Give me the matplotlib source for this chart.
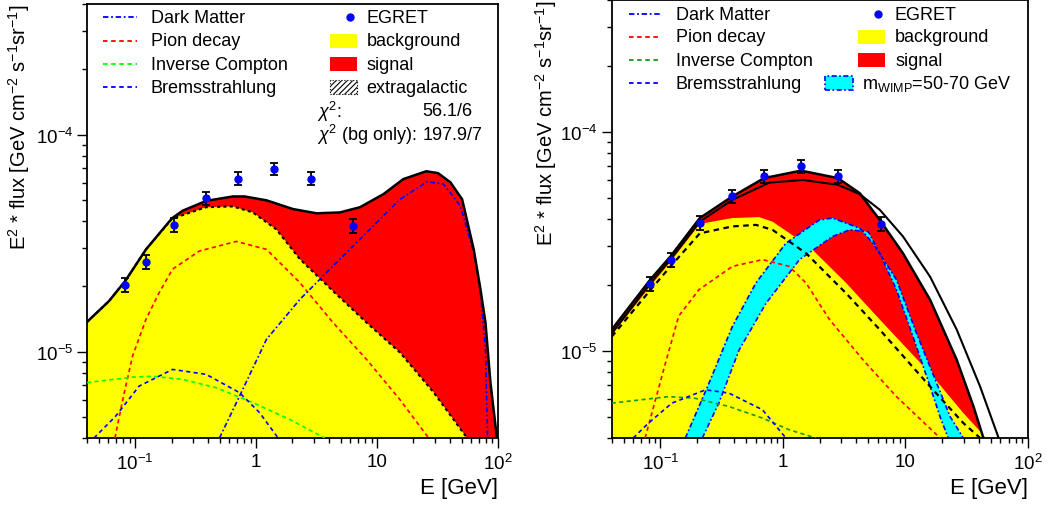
import numpy as np
import matplotlib
matplotlib.use("Agg")
import matplotlib.pyplot as plt
from matplotlib.lines import Line2D
from matplotlib.patches import Rectangle
from matplotlib.ticker import FixedLocator, FixedFormatter, LogLocator, NullFormatter

plt.rcParams['font.family'] = ['Liberation Sans', 'DejaVu Sans']
plt.rcParams['mathtext.fontset'] = 'custom'
plt.rcParams['mathtext.rm'] = 'Liberation Sans'
plt.rcParams['mathtext.it'] = 'Liberation Sans:italic'
plt.rcParams['mathtext.bf'] = 'Liberation Sans:bold'
plt.rcParams['hatch.linewidth'] = 0.8

# === EGRET data (both panels) ===
E_egret = [0.083, 0.122, 0.211, 0.386, 0.706, 1.415, 2.83, 6.35]
F_egret = [2.03e-5, 2.60e-5, 3.84e-5, 5.09e-5, 6.27e-5, 6.97e-5, 6.27e-5, 3.80e-5]
F_err = [1.5e-6, 1.9e-6, 2.7e-6, 3.5e-6, 4.3e-6, 4.7e-6, 4.3e-6, 2.7e-6]

# === Left panel: fit with fixed background shape ===
E_tot_l = [0.04, 0.0608, 0.083, 0.123, 0.202, 0.247, 0.386, 0.643, 0.803, 1.22, 2.02, 3.16,
           4.93, 7.23, 11.3, 16.5, 25.5, 31.9, 40.4, 50.5, 63.0, 71.6, 78.8, 86.6, 98]
F_tot_l = [1.37e-5, 1.71e-5, 2.12e-5, 2.96e-5, 4.12e-5, 4.46e-5, 4.95e-5, 5.19e-5, 5.19e-5, 4.98e-5,
           4.54e-5, 4.34e-5, 4.38e-5, 4.63e-5, 5.32e-5, 6.24e-5, 6.78e-5, 6.65e-5, 6.03e-5, 5.04e-5,
           2.96e-5, 1.94e-5, 1.36e-5, 7.2e-6, 4.0e-6]
E_bg_l = [0.04, 0.0608, 0.083, 0.123, 0.202, 0.386, 0.643, 0.94, 1.47, 2.30, 4.33, 8.2, 15.5, 29.3, 55.5, 100]
F_bg_l = [1.37e-5, 1.71e-5, 2.12e-5, 2.96e-5, 4.1e-5, 4.63e-5, 4.67e-5, 4.38e-5, 3.66e-5, 2.67e-5,
          1.90e-5, 1.36e-5, 9.9e-6, 6.5e-6, 4.0e-6, 2.5e-6]
E_pi_l = [0.068, 0.08, 0.095, 0.123, 0.158, 0.204, 0.340, 0.686, 1.22, 2.30, 4.33, 8.2, 15.5, 26.7]
F_pi_l = [4e-6, 6.2e-6, 9.5e-6, 1.41e-5, 1.87e-5, 2.40e-5, 2.91e-5, 3.22e-5, 2.96e-5, 2.08e-5,
          1.36e-5, 9.2e-6, 6.0e-6, 4e-6]
E_ic_l = [0.04, 0.095, 0.14, 0.247, 0.468, 0.94, 1.90, 3.70]
F_ic_l = [7.2e-6, 7.63e-6, 7.7e-6, 7.45e-6, 6.82e-6, 5.82e-6, 4.87e-6, 4.0e-6]
E_br_l = [0.0457, 0.069, 0.108, 0.204, 0.386, 0.730, 1.07, 1.52]
F_br_l = [4e-6, 5.04e-6, 6.94e-6, 8.28e-6, 7.86e-6, 6.47e-6, 5.23e-6, 4e-6]
E_dm_l = [0.498, 0.730, 1.22, 2.30, 4.33, 8.2, 15.5, 25.9, 35.4, 48.8, 63, 71.6, 78.8, 82]
F_dm_l = [4e-6, 6.24e-6, 1.14e-5, 1.74e-5, 2.48e-5, 3.54e-5, 5.04e-5, 6.07e-5, 5.92e-5, 4.70e-5,
          2.86e-5, 1.88e-5, 1.02e-5, 4e-6]

# === Right panel: fit with free background normalisation ===
E_tot_r = [0.04, 0.083, 0.121, 0.210, 0.387, 0.705, 1.41, 2.82, 4.25, 6.2, 9.6, 16.0, 26.4, 36.2, 43.6]
F_tot_r = [1.25e-5, 2.12e-5, 2.70e-5, 4.04e-5, 5.07e-5, 6.15e-5, 6.65e-5, 6.15e-5, 5.25e-5, 3.96e-5,
           2.79e-5, 1.71e-5, 9.1e-6, 5.57e-6, 4.0e-6]
E_tot2_r = [0.04, 0.083, 0.121, 0.210, 0.387, 0.774, 1.46, 2.82, 4.25, 6.2, 9.6, 16.0, 26.4, 41.0, 58.1]
F_tot2_r = [1.20e-5, 2.04e-5, 2.62e-5, 3.89e-5, 4.89e-5, 5.86e-5, 6.03e-5, 5.73e-5, 5.20e-5, 4.41e-5,
            3.33e-5, 2.18e-5, 1.25e-5, 6.87e-6, 4.0e-6]
E_bg_r = [0.04, 0.083, 0.121, 0.21, 0.387, 0.641, 0.824, 1.65, 3.30, 6.2, 16.0, 29.9, 46]
F_bg_r = [1.18e-5, 1.98e-5, 2.55e-5, 3.80e-5, 4.04e-5, 4.08e-5, 3.89e-5, 2.99e-5, 2.04e-5, 1.39e-5,
          7.9e-6, 5.2e-6, 4.0e-6]
E_bgd_r = [0.04, 0.083, 0.121, 0.21, 0.387, 0.603, 0.824, 1.55, 3.30, 6.2, 16.0, 29.9, 41]
F_bgd_r = [1.16e-5, 1.90e-5, 2.43e-5, 3.44e-5, 3.70e-5, 3.76e-5, 3.57e-5, 2.79e-5, 1.83e-5, 1.25e-5,
           6.87e-6, 4.68e-6, 4.0e-6]
E_dm_hi = [0.160, 0.249, 0.387, 0.603, 1.06, 1.99, 2.55, 4.25, 5.46, 8.5, 12.4, 18.1, 23.3, 29.9]
F_dm_hi = [4e-6, 7.1e-6, 1.29e-5, 2.04e-5, 3.1e-5, 3.96e-5, 4.04e-5, 3.63e-5, 3.10e-5, 2.11e-5,
           1.20e-5, 7.12e-6, 5.01e-6, 4e-6]
E_dm_lo = [0.220, 0.30, 0.44, 0.73, 1.37, 2.55, 3.52, 5.0, 6.2, 8.5, 11.6, 16.0, 19.3, 22.5]
F_dm_lo = [4e-6, 5.77e-6, 1.01e-5, 1.65e-5, 2.61e-5, 3.33e-5, 3.57e-5, 3.5e-5, 2.79e-5, 1.90e-5,
           1.16e-5, 6.87e-6, 5.0e-6, 4e-6]
E_pi_r = [0.075, 0.11, 0.141, 0.206, 0.387, 0.683, 1.13, 1.55, 2.41, 4.52, 8.5, 19.3]
F_pi_r = [4e-6, 8.8e-6, 1.44e-5, 1.9e-5, 2.43e-5, 2.61e-5, 2.43e-5, 2.04e-5, 1.39e-5, 9.1e-6, 6.18e-6, 4e-6]
E_ic_r = [0.04, 0.117, 0.19, 0.364, 0.683, 1.13, 1.87]
F_ic_r = [5.77e-6, 6.18e-6, 6.08e-6, 5.57e-6, 4.93e-6, 4.36e-6, 4.0e-6]
E_br_r = [0.060, 0.080, 0.124, 0.234, 0.364, 0.683, 1.06]
F_br_r = [4e-6, 4.68e-6, 5.77e-6, 6.64e-6, 6.41e-6, 5.38e-6, 4e-6]

x_ticks = [0.1, 1, 10, 100]
x_ticklabels = [r'$10^{-1}$', '1', '10', r'$10^{2}$']
y_ticks = [1e-5, 1e-4]
y_ticklabels = [r'$10^{-5}$', r'$10^{-4}$']

YELLOW = '#ffff00'
RED = '#ff0000'
CYAN = '#00ffff'
BLUE = '#0000ff'
DASH = (0, (2.5, 2))
DASHDOT = (0, (3, 1.5, 1, 1.5))
FLOOR = 1e-7

W, H = 1050, 506
fig = plt.figure(figsize=(W / 100, H / 100), dpi=100)


def fx(p):
    return p / W


def fy(p):
    return 1 - p / H


def style_axes(ax):
    ax.set_xscale('log')
    ax.set_yscale('log')
    ax.set_xlim(0.04, 100)
    ax.set_ylim(4e-6, 4e-4)
    ax.xaxis.set_major_locator(FixedLocator(x_ticks))
    ax.xaxis.set_major_formatter(FixedFormatter(x_ticklabels))
    ax.yaxis.set_major_locator(FixedLocator(y_ticks))
    ax.yaxis.set_major_formatter(FixedFormatter(y_ticklabels))
    for axis in (ax.xaxis, ax.yaxis):
        axis.set_minor_locator(LogLocator(base=10, subs=np.arange(2, 10) * 1.0, numticks=20))
        axis.set_minor_formatter(NullFormatter())
    ax.tick_params(which='both', direction='out', width=1.0, labelsize=13.5, top=False, right=False)
    ax.tick_params(which='major', length=7)
    ax.tick_params(which='minor', length=3.5)
    ax.tick_params(axis='x', pad=4)
    ax.tick_params(axis='y', pad=3)
    for s in ax.spines.values():
        s.set_linewidth(1.3)
    ax.set_xlabel('E [GeV]', fontsize=16, loc='right')
    ax.xaxis.set_label_coords(1.0, -0.09)
    ax.set_ylabel(r'E$^2$ * flux [GeV cm$^{-2}$ s$^{-1}$sr$^{-1}$]', fontsize=14.5, loc='top')


def draw_egret(ax):
    ax.errorbar(E_egret, F_egret, yerr=F_err, fmt='none', ecolor='k', elinewidth=1.3,
                capsize=3, capthick=1.3, zorder=6)
    ax.plot(E_egret, F_egret, 'o', color=BLUE, ms=5, zorder=7)


def legend_lines(rows, x0, x1, xt, comps):
    for r, (lab, col, ls) in zip(rows, comps):
        fig.add_artist(Line2D([fx(x0), fx(x1)], [fy(r), fy(r)], color=col, ls=ls, lw=1.3))
        fig.text(fx(xt), fy(r), lab, ha='left', va='center', fontsize=13)


# ---------------- Left panel ----------------
axl = fig.add_axes([87 / W, 1 - 439 / H, 411 / W, 434 / H])
axl.fill_between(E_tot_l, F_tot_l, FLOOR, color=RED, lw=0, zorder=1)
axl.fill_between(E_bg_l, F_bg_l, FLOOR, color=YELLOW, lw=0, zorder=2)
axl.plot(E_bg_l, F_bg_l, color='k', ls=(0, (1.5, 1.5)), lw=1.5, zorder=3)
axl.plot(E_tot_l, F_tot_l, color='k', lw=1.8, zorder=4)
axl.plot(E_pi_l, F_pi_l, color=RED, ls=DASH, lw=1.2, zorder=3)
axl.plot(E_ic_l, F_ic_l, color='#00ff00', ls=DASH, lw=1.2, zorder=3)
axl.plot(E_br_l, F_br_l, color=BLUE, ls=DASH, lw=1.2, zorder=3)
axl.plot(E_dm_l, F_dm_l, color=BLUE, ls=DASHDOT, lw=1.2, zorder=3)
draw_egret(axl)
style_axes(axl)
axl.yaxis.set_label_coords(-0.135, 1.0)

rows_l = [18.3, 41.7, 65, 88.3]
legend_lines(rows_l, 103, 137, 150.7,
             [('Dark Matter', BLUE, DASHDOT), ('Pion decay', RED, DASH),
              ('Inverse Compton', '#00ff00', DASH), ('Bremsstrahlung', BLUE, DASH)])
fig.add_artist(Line2D([fx(350)], [fy(rows_l[0])], marker='o', color=BLUE, ms=5, ls='none'))
fig.add_artist(Rectangle((fx(330), fy(rows_l[1] + 7)), 27 / W, 14 / H, transform=fig.transFigure,
                         facecolor=YELLOW, edgecolor='none'))
fig.add_artist(Rectangle((fx(330), fy(rows_l[2] + 7)), 27 / W, 14 / H, transform=fig.transFigure,
                         facecolor=RED, edgecolor='none'))
fig.add_artist(Rectangle((fx(330), fy(rows_l[3] + 7)), 27 / W, 14 / H, transform=fig.transFigure,
                         facecolor='white', edgecolor='k', hatch='//////', ls=':', lw=0.8))
for r, lab in zip(rows_l, ['EGRET', 'background', 'signal', 'extragalactic']):
    fig.text(fx(366.7), fy(r), lab, ha='left', va='center', fontsize=13)
fig.text(fx(316.7), fy(111.7), r'$\chi^2$:', ha='left', va='center', fontsize=13)
fig.text(fx(422.7), fy(111.7), '56.1/6', ha='left', va='center', fontsize=13)
fig.text(fx(316.7), fy(135), r'$\chi^2$ (bg only):', ha='left', va='center', fontsize=13)
fig.text(fx(422.7), fy(135), '197.9/7', ha='left', va='center', fontsize=13)

# ---------------- Right panel ----------------
axr = fig.add_axes([611.7 / W, 1 - 439 / H, 415.8 / W, 438 / H])
axr.fill_between(E_tot_r, F_tot_r, FLOOR, color=RED, lw=0, zorder=1)
axr.fill_between(E_bg_r, F_bg_r, FLOOR, color=YELLOW, lw=0, zorder=2)
axr.fill(np.r_[E_dm_hi, E_dm_lo[::-1]], np.r_[F_dm_hi, F_dm_lo[::-1]], color=CYAN, lw=0, zorder=2.5)
axr.plot(E_dm_hi, F_dm_hi, color=BLUE, ls=DASHDOT, lw=1.2, zorder=3)
axr.plot(E_dm_lo, F_dm_lo, color=BLUE, ls=DASHDOT, lw=1.2, zorder=3)
axr.plot(E_bgd_r, F_bgd_r, color='k', ls=DASH, lw=1.6, zorder=3)
axr.plot(E_pi_r, F_pi_r, color=RED, ls=DASH, lw=1.2, zorder=3)
axr.plot(E_ic_r, F_ic_r, color='#119911', ls=DASH, lw=1.2, zorder=3)
axr.plot(E_br_r, F_br_r, color=BLUE, ls=DASH, lw=1.2, zorder=3)
axr.plot(E_tot2_r, F_tot2_r, color='k', lw=1.5, zorder=4)
axr.plot(E_tot_r, F_tot_r, color='k', lw=1.8, zorder=4)
draw_egret(axr)
style_axes(axr)
axr.yaxis.set_label_coords(-0.127, 1.0)

rows_r = [15, 37.7, 61, 84.3]
legend_lines(rows_r, 629, 661, 675.7,
             [('Dark Matter', BLUE, DASHDOT), ('Pion decay', RED, DASH),
              ('Inverse Compton', '#119911', DASH), ('Bremsstrahlung', BLUE, DASH)])
fig.add_artist(Line2D([fx(878.3)], [fy(rows_r[0])], marker='o', color=BLUE, ms=5, ls='none'))
fig.add_artist(Rectangle((fx(858), fy(rows_r[1] + 7)), 27 / W, 14 / H, transform=fig.transFigure,
                         facecolor=YELLOW, edgecolor='none'))
fig.add_artist(Rectangle((fx(858), fy(rows_r[2] + 7)), 27 / W, 14 / H, transform=fig.transFigure,
                         facecolor=RED, edgecolor='none'))
fig.add_artist(Rectangle((fx(825), fy(rows_r[3] + 7)), 27.7 / W, 14 / H, transform=fig.transFigure,
                         facecolor=CYAN, edgecolor=BLUE, ls=DASHDOT, lw=1.2))
for r, lab in zip(rows_r[:3], ['EGRET', 'background', 'signal']):
    fig.text(fx(895), fy(r), lab, ha='left', va='center', fontsize=13)
fig.text(fx(861.7), fy(rows_r[3]), r'm$_{\mathrm{WIMP}}$=50-70 GeV', ha='left', va='center', fontsize=13)

fig.savefig('out.png', dpi=100)
